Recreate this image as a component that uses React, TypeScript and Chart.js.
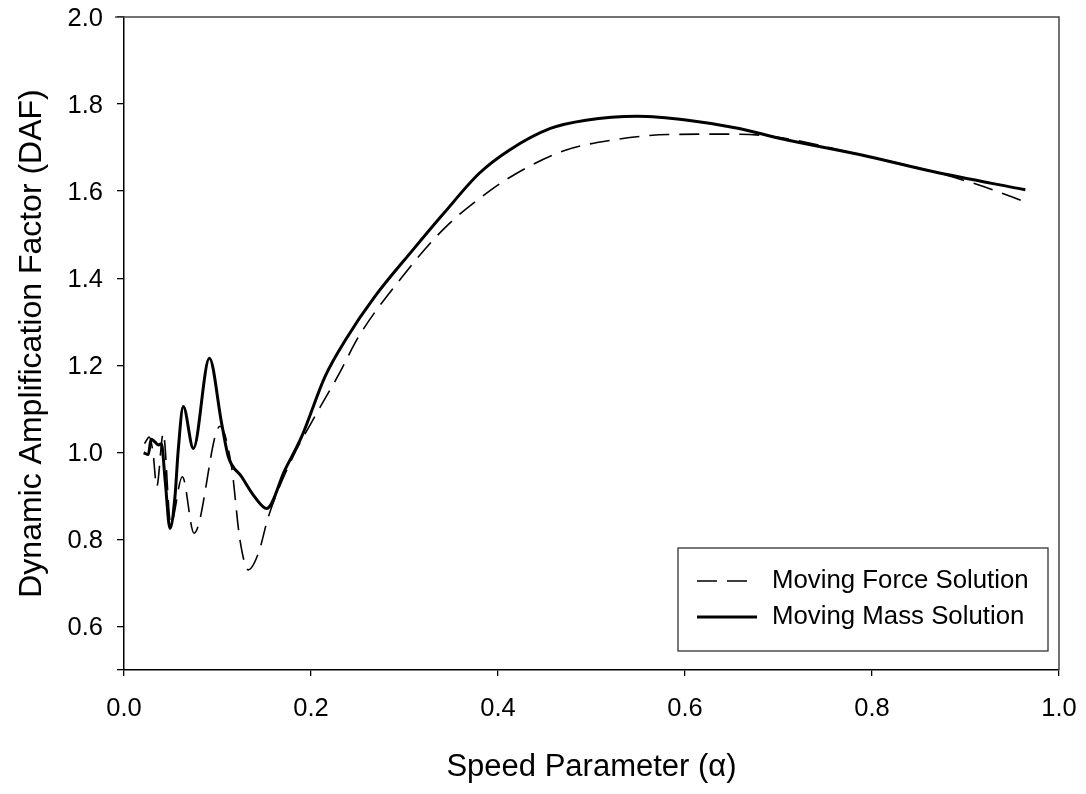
import React, { useEffect, useRef } from "react";
import { Chart, registerables } from "chart.js";

Chart.register(...registerables);

// Moving Force Solution (dashed)
const forceX = [0.022, 0.027, 0.031, 0.035, 0.042, 0.050, 0.0624, 0.0749, 0.1027, 0.115, 0.124, 0.133, 0.1437, 0.1544, 0.179, 0.208, 0.23, 0.251, 0.292, 0.341, 0.39, 0.429, 0.472, 0.521, 0.582, 0.647, 0.696, 0.789, 0.865, 0.92, 0.964];
const forceY = [1.02, 1.035, 1.0, 0.921, 1.044, 0.835, 0.944, 0.814, 1.06, 0.967, 0.799, 0.73, 0.768, 0.852, 0.982, 1.097, 1.18, 1.266, 1.388, 1.511, 1.599, 1.652, 1.694, 1.717, 1.73, 1.731, 1.725, 1.683, 1.645, 1.61, 1.575];

// Moving Mass Solution (solid)
const massX = [0.021, 0.026, 0.029, 0.033, 0.037, 0.04, 0.044, 0.0492, 0.0545, 0.058, 0.0634, 0.0742, 0.0913, 0.1044, 0.1116, 0.1258, 0.14, 0.1526, 0.172, 0.19, 0.215, 0.238, 0.268, 0.309, 0.342, 0.38, 0.412, 0.456, 0.494, 0.549, 0.603, 0.658, 0.702, 0.789, 0.865, 0.964];
const massY = [0.999, 0.995, 1.03, 1.024, 1.017, 1.02, 0.936, 0.825, 0.898, 1.005, 1.105, 1.009, 1.216, 1.067, 0.99, 0.944, 0.897, 0.871, 0.959, 1.036, 1.174, 1.262, 1.357, 1.465, 1.549, 1.641, 1.694, 1.744, 1.763, 1.772, 1.763, 1.744, 1.721, 1.683, 1.645, 1.603];

const xTickValues = [0.0, 0.2, 0.4, 0.6, 0.8, 1.0];
const yTickValues = [0.5, 0.6, 0.8, 1.0, 1.2, 1.4, 1.6, 1.8, 2.0];
const yLabelledTicks = [0.6, 0.8, 1.0, 1.2, 1.4, 1.6, 1.8, 2.0];

const seriesLabels = ["Moving Force Solution", "Moving Mass Solution"];
const xTitle = "Speed Parameter (\u03B1)";
const yTitle = "Dynamic Amplification Factor (DAF)";

const FONT = "'Liberation Sans', Arial, sans-serif";

const framePlugin = {
  id: "frameAndLegend",
  afterDraw(chart: any) {
    const { ctx, chartArea } = chart;
    ctx.save();
    // top and right border
    ctx.strokeStyle = "#444";
    ctx.lineWidth = 1.5;
    ctx.setLineDash([]);
    ctx.beginPath();
    ctx.moveTo(chartArea.left - 9, chartArea.top);
    ctx.lineTo(chartArea.right, chartArea.top);
    ctx.lineTo(chartArea.right, chartArea.bottom);
    ctx.stroke();

    // legend box
    const bx = chartArea.right - 381;
    const by = chartArea.bottom - 122;
    const bw = 370;
    const bh = 103;
    ctx.fillStyle = "#fff";
    ctx.fillRect(bx, by, bw, bh);
    ctx.strokeStyle = "#333";
    ctx.lineWidth = 1.3;
    ctx.strokeRect(bx, by, bw, bh);

    const rows = [by + 33, by + 69];
    chart.data.datasets.forEach((ds: any, i: number) => {
      const y = rows[i];
      ctx.strokeStyle = ds.borderColor;
      ctx.lineWidth = ds.borderWidth;
      ctx.setLineDash(ds.borderDash || []);
      ctx.beginPath();
      ctx.moveTo(bx + 19, y);
      ctx.lineTo(bx + 79, y);
      ctx.stroke();
      ctx.setLineDash([]);
      ctx.fillStyle = "#000";
      ctx.font = `25.8px ${FONT}`;
      ctx.textBaseline = "middle";
      ctx.textAlign = "left";
      ctx.fillText(ds.label, bx + 94, y);
    });
    ctx.restore();
  },
};

export default function App() {
  const ref = useRef<HTMLCanvasElement | null>(null);

  useEffect(() => {
    if (!ref.current) return;
    const chart = new Chart(ref.current, {
      type: "line",
      data: {
        datasets: [
          {
            label: seriesLabels[0],
            data: forceX.map((x, i) => ({ x, y: forceY[i] })),
            borderColor: "#000",
            borderWidth: 1.6,
            borderDash: [20, 10],
            pointRadius: 0,
            fill: false,
            cubicInterpolationMode: "monotone",
          },
          {
            label: seriesLabels[1],
            data: massX.map((x, i) => ({ x, y: massY[i] })),
            borderColor: "#000",
            borderWidth: 3,
            pointRadius: 0,
            fill: false,
            cubicInterpolationMode: "monotone",
          },
        ],
      },
      options: {
        responsive: false,
        animation: false,
        layout: { padding: { top: 17, right: 27, left: 0, bottom: 0 } },
        plugins: {
          legend: { display: false },
          tooltip: { enabled: false },
        },
        scales: {
          x: {
            type: "linear",
            min: 0,
            max: 1,
            afterBuildTicks: (s: any) => {
              s.ticks = xTickValues.map((v) => ({ value: v }));
            },
            afterFit: (s: any) => {
              s.height = 124;
              s.paddingLeft = 0;
              s.paddingRight = 0;
            },
            ticks: {
              color: "#000",
              font: { family: FONT, size: 25.5 },
              padding: 18,
              maxRotation: 0,
              callback: (v: any) => Number(v).toFixed(1),
            },
            grid: {
              drawOnChartArea: false,
              drawTicks: true,
              tickLength: 6,
              color: "#000",
              lineWidth: 1.3,
            },
            border: { display: true, color: "#000", width: 1.5 },
            title: {
              display: true,
              text: xTitle,
              color: "#000",
              font: { family: FONT, size: 31 },
              padding: { top: 0, bottom: 8 },
            },
          },
          y: {
            type: "linear",
            min: 0.5,
            max: 2.0,
            afterBuildTicks: (s: any) => {
              s.ticks = yTickValues.map((v) => ({ value: v }));
            },
            afterFit: (s: any) => {
              s.width = 124;
              s.paddingTop = 0;
              s.paddingBottom = 0;
            },
            ticks: {
              color: "#000",
              font: { family: FONT, size: 25.5 },
              padding: 14,
              labelOffset: 2,
              callback: (v: any) =>
                yLabelledTicks.some((t) => Math.abs(t - Number(v)) < 1e-6) ? Number(v).toFixed(1) : "",
            },
            grid: {
              drawOnChartArea: false,
              drawTicks: true,
              tickLength: 7,
              color: "#000",
              lineWidth: 1.3,
            },
            border: { display: true, color: "#000", width: 1.5 },
            title: {
              display: true,
              text: yTitle,
              color: "#000",
              font: { family: FONT, size: 32 },
              padding: { top: 13, bottom: 0 },
            },
          },
        },
      },
      plugins: [framePlugin],
    } as any);
    return () => chart.destroy();
  }, []);

  return (
    <div style={{ position: "absolute", left: 0, top: 0, width: 1086, height: 794, background: "#fff" }}>
      <canvas ref={ref} width={1086} height={794} style={{ width: 1086, height: 794 }} />
    </div>
  );
}
